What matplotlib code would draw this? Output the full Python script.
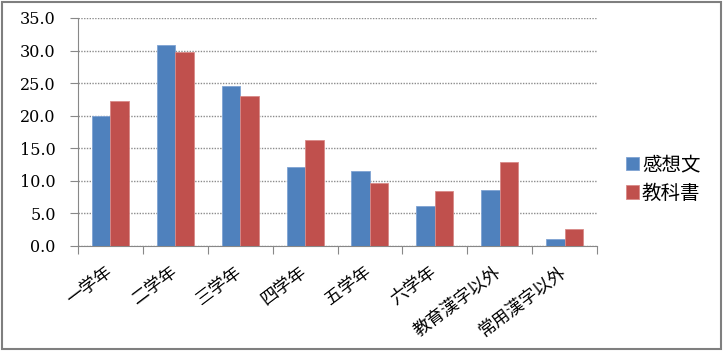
import numpy as np
import matplotlib
matplotlib.use("Agg")
from matplotlib import pyplot as plt
from matplotlib.patches import Rectangle
import matplotlib.transforms as mtrans

# データ
categories = ['一学年', '二学年', '三学年', '四学年', '五学年', '六学年', '教育漢字以外', '常用漢字以外']
kansoubun = [20.0, 30.9, 24.6, 12.1, 11.5, 6.1, 8.6, 1.0]
kyoukasho = [22.3, 29.8, 23.1, 16.2, 9.6, 8.5, 12.9, 2.6]
series_names = ['感想文', '教科書']
yticks = [0, 5, 10, 15, 20, 25, 30, 35]

cjk = ['Noto Sans CJK JP', 'DejaVu Sans']
serif = ['DejaVu Serif']

fig = plt.figure(figsize=(7.23, 3.51), dpi=100)
ax = fig.add_axes([78/723, 105/351, 519/723, 228/351])

x = np.arange(len(categories))
w = 0.285
ax.bar(x - w/2, kansoubun, w, color='#4F81BD', edgecolor='#7FA3D3', linewidth=0.6, label=series_names[0], zorder=3)
ax.bar(x + w/2, kyoukasho, w, color='#C0504D', edgecolor='#D88A88', linewidth=0.6, label=series_names[1], zorder=3)

ax.set_xlim(-0.5, len(categories) - 0.5)
ax.set_ylim(0, 35)
ax.set_yticks(yticks)
ax.set_yticklabels(['%.1f' % v for v in yticks], family=serif, fontsize=11.5)
ax.yaxis.grid(True, color='#8c8c8c', linestyle=(0, (1, 1)), linewidth=1.0, zorder=0)

ax.set_xticks(np.arange(len(categories) + 1) - 0.5)
ax.set_xticklabels([])
ax.set_xticks(x, minor=True)
ax.set_xticklabels(categories, minor=True, rotation=37, ha='right', va='top',
                   rotation_mode='anchor', family=cjk, fontsize=12.5)
ax.tick_params(axis='x', which='minor', length=0, pad=12)
ax.tick_params(axis='x', which='major', length=6, color='#888888', direction='out')
ax.tick_params(axis='y', length=6, color='#888888', pad=10)

off = mtrans.ScaledTranslation(-6/100, 0, fig.dpi_scale_trans)
for lab in ax.xaxis.get_minorticklabels():
    lab.set_transform(lab.get_transform() + off)

for s in ['top', 'right']:
    ax.spines[s].set_visible(False)
for s in ['left', 'bottom']:
    ax.spines[s].set_color('#888888')

handles, labels = ax.get_legend_handles_labels()
fig.legend(handles, labels, loc='center left', bbox_to_anchor=(608/723, 0.49), frameon=False,
           prop={'family': cjk, 'size': 14}, handlelength=0.7, handleheight=0.7,
           handletextpad=0.15, labelspacing=0.4)

fig.patches.append(Rectangle((0.003, 0.005), 0.994, 0.99, transform=fig.transFigure,
                             fill=False, edgecolor='#7f7f7f', linewidth=1.5))

fig.savefig('out.png', dpi=100)
